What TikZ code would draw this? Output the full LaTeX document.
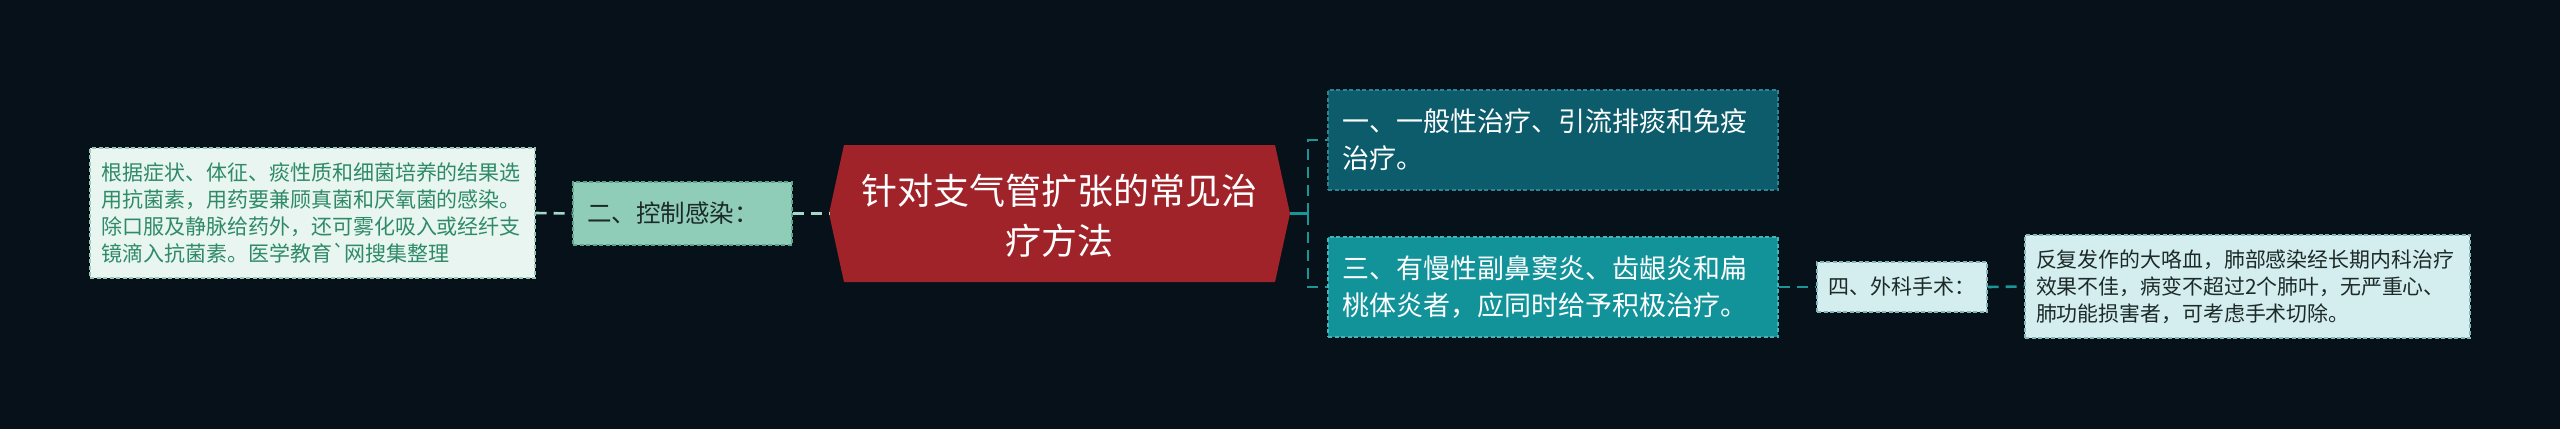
\documentclass[tikz,border=0pt]{standalone}
\usepackage{fontspec}
\setmainfont{Noto Sans CJK SC}[Ligatures=TeXOff]
\definecolor{bgc}{HTML}{06111A}
\definecolor{rootred}{HTML}{9F2329}
\definecolor{leafLfill}{HTML}{E8F5F0}
\definecolor{leafLborder}{HTML}{9CC9B6}
\definecolor{leafLtext}{HTML}{2F8A68}
\definecolor{twofill}{HTML}{8FCDB8}
\definecolor{twoborder}{HTML}{5FA58E}
\definecolor{darktext}{HTML}{1C2A28}
\definecolor{mintline}{HTML}{A3D9C6}
\definecolor{onefill}{HTML}{0C5C6C}
\definecolor{oneborder}{HTML}{2C8494}
\definecolor{threefill}{HTML}{12939A}
\definecolor{threeborder}{HTML}{44B4B8}
\definecolor{tealline}{HTML}{1C9597}
\definecolor{fourfill}{HTML}{D4EDEF}
\definecolor{fourborder}{HTML}{86B5BA}
\begin{document}
\begin{tikzpicture}[x=1pt,y=-1pt,
  box/.style={draw, dash pattern=on 4pt off 2.5pt, line width=1.2pt, inner sep=0pt, align=left},
  mintconn/.style={draw=mintline, line width=2.6pt, dash pattern=on 11pt off 7pt},
  tealconn/.style={draw=tealline, line width=2.6pt, dash pattern=on 11pt off 7pt}]
\fill[bgc] (0,0) rectangle (2560,429);
\useasboundingbox (0,0) rectangle (2560,429);
% root
\fill[rootred] (844,145) -- (1275,145) -- (1290,213.5) -- (1275,282) -- (844,282) -- (829,213.5) -- cycle;
\node (root) at (1059.5,215.5) [font=\fontsize{36}{50}\selectfont, text=white, align=center, inner sep=0pt] {针对支气管扩张的常见治\\疗方法};
\coordinate (rootW) at (829,213.5);
\coordinate (rootE) at (1290,213.5);
\coordinate (fork) at (1308,213.5);
% left side
\node[box, fill=twofill, draw=twoborder, text=darktext, minimum width=219, minimum height=63, text width=191,
  font=\fontsize{24.5}{30}\selectfont] (n2) at (682.5,213.5) {二、控制感染：};
\node[box, fill=leafLfill, draw=leafLborder, text=leafLtext, minimum width=445, minimum height=130, text width=423,
  font=\fontsize{21}{26.7}\selectfont] (leafL) at (312.5,213) {根据症状、体征、痰性质和细菌培养的结果选\\用抗菌素，用药要兼顾真菌和厌氧菌的感染。\\除口服及静脉给药外，还可雾化吸入或经纤支\\镜滴入抗菌素。医学教育`网搜集整理};
% right side
\node[box, fill=onefill, draw=oneborder, text=white, minimum width=450, minimum height=100, text width=422,
  font=\fontsize{27}{37}\selectfont] (box1) at (1553,140) {一、一般性治疗、引流排痰和免疫\\治疗。};
\node[box, fill=threefill, draw=threeborder, text=white, minimum width=450, minimum height=100, text width=422,
  font=\fontsize{27}{37}\selectfont] (box3) at (1553,287) {三、有慢性副鼻窦炎、齿龈炎和扁\\桃体炎者，应同时给予积极治疗。};
\node[box, fill=fourfill, draw=fourborder, text=darktext, minimum width=170, minimum height=50, text width=148,
  font=\fontsize{21}{26}\selectfont] (n4) at (1902,287) {四、外科手术：};
\node[box, fill=fourfill, draw=fourborder, text=darktext, minimum width=445, minimum height=103, text width=423,
  font=\fontsize{20.9}{27}\selectfont] (leafR) at (2247.5,286.5) {反复发作的大咯血，肺部感染经长期内科治疗\\效果不佳，病变不超过2个肺叶，无严重心、\\肺功能损害者，可考虑手术切除。};
% connectors
\draw[mintconn] (leafL.east) -- (n2.west);
\draw[mintconn] (n2.east) -- (rootW);
\draw[draw=tealline, line width=2.6pt] (rootE) -- (fork);
\draw[tealconn] (fork) |- (box1.west);
\draw[tealconn] (fork) |- (box3.west);
\draw[tealconn] (box3.east) -- (n4.west);
\draw[tealconn] (n4.east) -- (leafR.west);
\end{tikzpicture}
\end{document}
